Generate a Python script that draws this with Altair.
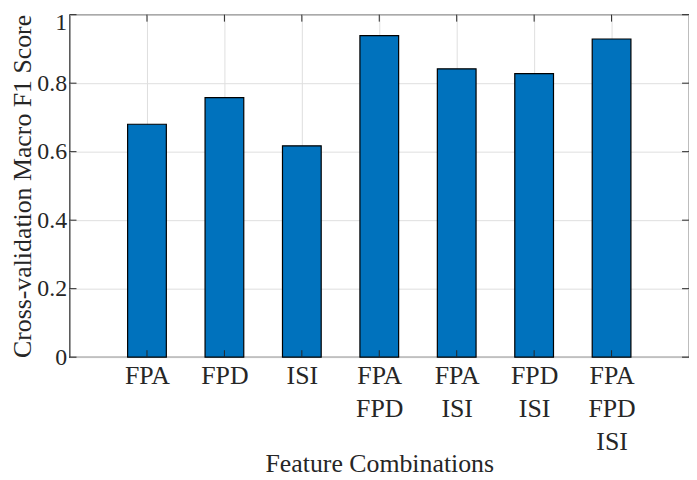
import json
import altair as alt
import pandas as pd

# ---- data ----
positions = [1, 2, 3, 4, 5, 6, 7]
label_lines = [["FPA"], ["FPD"], ["ISI"], ["FPA", "FPD"], ["FPA", "ISI"],
               ["FPD", "ISI"], ["FPA", "FPD", "ISI"]]
scores = [0.680, 0.758, 0.617, 0.939, 0.842, 0.828, 0.929]
y_ticks = [0, 0.2, 0.4, 0.6, 0.8, 1.0]
x_domain = [0, 8]
y_domain = [0, 1]
bar_width = 0.5

W, H = 624, 345
FONT = "Liberation Serif"
AX = "#262626"

bars_df = pd.DataFrame({"pos": positions, "score": scores})
yt_df = pd.DataFrame({"v": y_ticks})
xt_df = pd.DataFrame({"p": positions})

xscale = alt.Scale(domain=x_domain, nice=False, zero=False)
yscale = alt.Scale(domain=y_domain, nice=False)

label_expr = json.dumps(label_lines) + "[datum.value - 1]"

bars = alt.Chart(bars_df).transform_calculate(
    x0=f"datum.pos - {bar_width / 2}",
    x1=f"datum.pos + {bar_width / 2}",
).mark_rect(color="#0072BD", stroke="#000000", strokeWidth=1.2).encode(
    x=alt.X("x0:Q", scale=xscale, axis=alt.Axis(
        values=positions, labelExpr=label_expr, title="Feature Combinations",
        grid=True, gridColor="#dfdfdf", ticks=False, domain=False,
        labelPadding=6, labelLineHeight=33, labelFontSize=26,
        titleFontSize=26, titleX=W / 2, titleY=115, titleBaseline="alphabetic",
        labelColor=AX, titleColor=AX, titleFontWeight="normal",
        labelFont=FONT, titleFont=FONT)),
    x2="x1:Q",
    y=alt.Y("score:Q", scale=yscale, axis=alt.Axis(
        values=y_ticks, format="~g", title="Cross-validation Macro F1 Score",
        grid=True, gridColor="#dfdfdf", ticks=False, domain=False,
        labelPadding=3, labelFontSize=24, titleFontSize=26,
        labelOffset={"condition": {"test": "datum.value == 1", "value": 8}, "value": 0},
        titleX=-39, titleY=H / 2, titleAngle=270, titleBaseline="alphabetic",
        titleAlign="center",
        labelColor=AX, titleColor=AX, titleFontWeight="normal",
        labelFont=FONT, titleFont=FONT)),
    y2=alt.datum(0),
)

tick_len = 7
left_ticks = alt.Chart(yt_df).mark_rule(color=AX, strokeWidth=1).encode(
    y=alt.Y("v:Q", scale=yscale, axis=None),
    x=alt.value(0), x2=alt.value(tick_len))
right_ticks = alt.Chart(yt_df).mark_rule(color=AX, strokeWidth=1).encode(
    y=alt.Y("v:Q", scale=yscale, axis=None),
    x=alt.value(W - tick_len), x2=alt.value(W))
bottom_ticks = alt.Chart(xt_df).mark_rule(color=AX, strokeWidth=1).encode(
    x=alt.X("p:Q", scale=xscale, axis=None),
    y=alt.value(H), y2=alt.value(H - tick_len))
top_ticks = alt.Chart(xt_df).mark_rule(color=AX, strokeWidth=1).encode(
    x=alt.X("p:Q", scale=xscale, axis=None),
    y=alt.value(0), y2=alt.value(tick_len))

chart = alt.layer(bars, left_ticks, right_ticks, bottom_ticks, top_ticks).resolve_axis(
    x="independent", y="independent"
).properties(
    width=W, height=H,
    autosize=alt.AutoSizeParams(type="none"),
    padding={"left": 62, "top": 5, "right": 0, "bottom": 122},
    background="white",
).configure_view(stroke=AX, strokeWidth=1.2)

chart.save("out.html", embed_options={"renderer": "svg", "actions": False})
